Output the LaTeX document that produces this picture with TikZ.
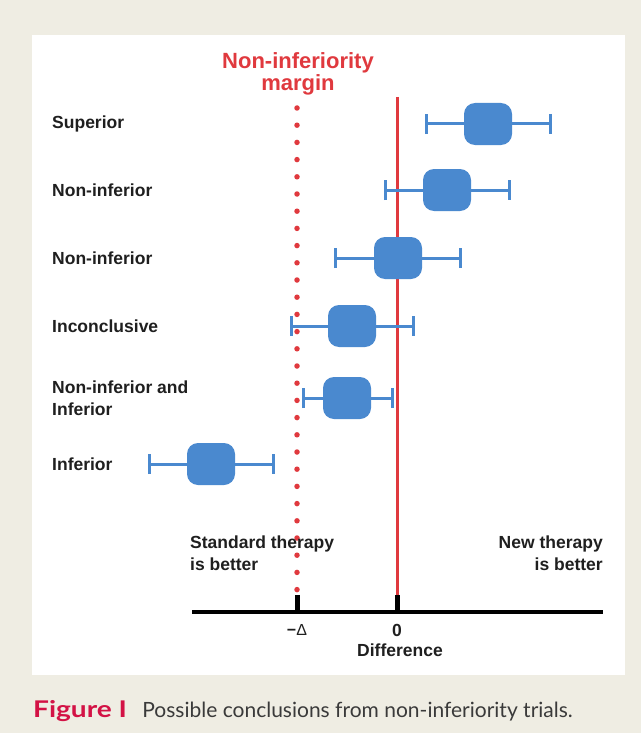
\documentclass[tikz,border=0pt]{standalone}
\usepackage{fontspec}
\setmainfont{Liberation Sans}
\newfontfamily\capfont{Lato}
\newfontfamily\figfont{Lato}[FakeStretch=1.22]
\usetikzlibrary{arrows.meta, positioning}
\definecolor{paper}{HTML}{EFEDE3}
\definecolor{marginred}{HTML}{E0393E}
\definecolor{ciblue}{HTML}{4A89CF}
\definecolor{capred}{HTML}{D31245}
\definecolor{captext}{HTML}{3A3A3A}

\begin{document}
\begin{tikzpicture}[x=1pt, y=-1pt, node distance=14pt,
                    lab/.style={inner sep=0pt,
                        font=\fontsize{17.5}{22}\selectfont\bfseries,
                        text=black!88},
                    ci/.style={rectangle,
                        rounded corners=11pt,
                        fill=ciblue,
                        minimum width=48pt,
                        minimum height=42pt,
                        inner sep=0pt},
                    whisker/.style={draw=ciblue,
                        line width=3pt,
                        {Bar[width=20pt]}-{Bar[width=20pt]}},
                    tick/.style={line width=5pt, black}]
    % background and panel
    \fill[paper] (0,0) rectangle (641,733);
    \fill[white] (32,35) rectangle (625,675);
    \useasboundingbox (0,0) rectangle (641,733);

    % margin and zero lines
    \node[inner sep=0pt, align=center, text=marginred,
          font=\fontsize{22}{20}\selectfont\bfseries] (title) at (298,74)
          {Non-inferiority\\margin};
    \coordinate (mtop) at (297,108);
    \coordinate (mbot) at (297,592);
    \coordinate (ztop) at (397,97);
    \coordinate (zbot) at (397,595);
    \draw[marginred, line width=5.5pt, line cap=round,
          dash pattern=on 0pt off 17.2pt] (mtop) -- (mbot);
    \draw[marginred, line width=3pt] (ztop) -- (zbot);

    % axis
    \coordinate (axl) at (192,612);
    \coordinate (axr) at (603,612);
    \coordinate (mtick) at (297,595);
    \coordinate (ztick) at (397,595);
    \draw[line width=4pt] (axl) -- (axr);
    \draw[tick] (mtick) -- (mtick |- axl);
    \draw[tick] (ztick) -- (ztick |- axl);
    \node[lab, font=\fontsize{16}{20}\selectfont] (delta) at (297,630) {\textbf{−}Δ};
    \node[lab] (zero) at (397,630) {0};
    \node[lab] (diff) at (400,650) {Difference};
    \node[lab, anchor=west, align=left] (std) at (190,553) {Standard therapy\\is better};
    \node[lab, anchor=east, align=right] (new) at (603,553) {New therapy\\is better};

    % trials
    \foreach \n/\y/\lo/\c/\hi/\txt in {1/124/425/488/552/Superior,
                                      2/190/384/447/511/Non-inferior,
                                      3/258/334/398/462/Non-inferior,
                                      4/326/290/352/415/Inconclusive,
                                      5/398/302/347/394/{Non-inferior and\\Inferior},
                                      6/464/148/211/275/Inferior}
    {
        \node[lab, anchor=west, align=left] (row\n) at (52,\y) {\txt};
        \coordinate (lo\n) at (\lo,\y);
        \coordinate (hi\n) at (\hi,\y);
        \draw[whisker] (lo\n) -- (hi\n);
        \node[ci] (ci\n) at (\c,\y) {};
    }

    % caption
    \node[inner sep=0pt, anchor=base west, text=capred,
          font=\figfont\fontsize{23}{26}\selectfont\bfseries] (fig) at (33,717) {Figure I};
    \node[inner sep=0pt, anchor=base west, text=captext,
          font=\capfont\fontsize{21}{24}\selectfont] (cap) at ([xshift=15pt]fig.base east)
          {Possible conclusions from non-inferiority trials.};
\end{tikzpicture}
\end{document}
